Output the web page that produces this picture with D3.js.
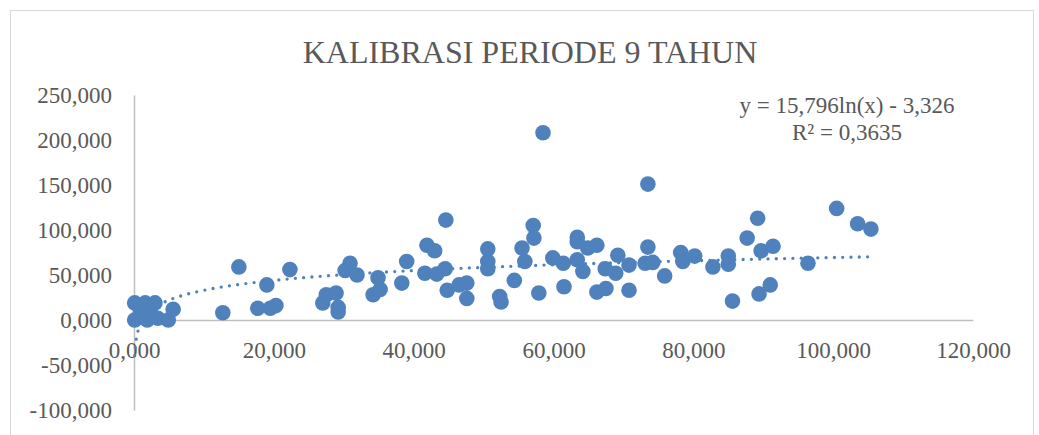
<!DOCTYPE html>
<html>
<head>
<meta charset="utf-8">
<script src="https://cdn.jsdelivr.net/npm/d3@7"></script>
<style>
  body { margin: 0; background: #fff; }
  text { font-family: "Liberation Serif", "Times New Roman", serif; fill: #595959; }
</style>
</head>
<body>
<script>
// observed values (thousands)
var xValues = [0.1, 1.6, 3.0, 0.1, 1.9, 3.4, 4.9, 5.6, 0.9, 2.3, 12.7, 15.0, 17.7, 19.0, 19.5, 20.3, 22.3,
  27.0, 27.5, 28.9, 29.2, 29.2, 30.2, 30.9, 31.9, 34.2, 34.9, 35.2, 38.3, 39.0, 41.6, 41.9, 43.0, 43.3,
  44.5, 44.6, 44.8, 46.5, 47.6, 47.6, 50.6, 50.6, 50.6, 52.3, 52.5,
  54.4, 55.5, 55.9, 57.1, 57.2, 57.9, 58.5, 59.9, 61.4, 61.5, 63.4, 63.4, 63.4, 64.2, 64.9, 66.2, 66.2,
  67.4, 67.5, 68.9, 69.2, 70.8, 70.8, 73.1, 73.5, 73.5, 74.2, 75.9, 78.2, 78.5, 80.2, 82.8, 85.0, 85.0,
  85.6, 87.7, 89.2, 89.4, 89.7, 91.0, 91.4, 96.4, 100.5, 103.5, 105.4];
var yValues = [19, 19, 19, 0, 0, 2, 0, 12, 8, 10, 8, 59, 13, 39, 13, 16, 56,
  19, 28, 30, 14, 9, 55, 63, 50, 28, 47, 34, 41, 65, 52, 83, 77, 51,
  57, 111, 33, 39, 41, 24, 79, 65, 57, 26, 20,
  44, 80, 65, 105, 91, 30, 208, 69, 63, 37, 92, 87, 67, 54, 80, 83, 31,
  57, 35, 52, 72, 61, 33, 63, 81, 151, 64, 49, 75, 65, 71, 59, 71, 62,
  21, 91, 113, 29, 77, 39, 82, 63, 124, 107, 101];

var xTicks = [0, 20, 40, 60, 80, 100, 120];
var yTicks = [-100, -50, 0, 50, 100, 150, 200, 250];

// logarithmic trendline given on the chart
var trendA = 15.796, trendB = -3.326;
var chartTitle = "KALIBRASI PERIODE 9 TAHUN";
var eqLines = ["y = 15,796ln(x) - 3,326", "R² = 0,3635"];

var width = 1039, height = 435;
var blue = "#4f81bd";

var fmt = d3.formatLocale({decimal: ",", thousands: ".", grouping: [3], currency: ["", ""], minus: "-"}).format(".3f");

var x = d3.scaleLinear().domain([0, 120]).range([134, 973]);
var y = d3.scaleLinear().domain([-100, 250]).range([410, 95]);

var svg = d3.select("body").append("svg")
    .attr("width", width)
    .attr("height", height);

svg.append("rect")
    .attr("x", 10.5).attr("y", 10.5)
    .attr("width", 1023).attr("height", 500)
    .attr("fill", "#fff")
    .attr("stroke", "#d9d9d9");

svg.append("text")
    .attr("x", 530).attr("y", 63)
    .attr("text-anchor", "middle")
    .style("font-size", "32px")
    .text(chartTitle);

var yAxis = svg.append("g")
    .attr("transform", "translate(" + x(0) + ",0)")
    .call(d3.axisLeft(y).tickValues(yTicks).tickSize(0).tickPadding(22).tickFormat(fmt));

var xAxis = svg.append("g")
    .attr("transform", "translate(0," + y(0) + ")")
    .call(d3.axisBottom(x).tickValues(xTicks).tickSize(0).tickPadding(22).tickFormat(fmt));

[yAxis, xAxis].forEach(function(g) {
  g.select(".domain").attr("stroke", "#bfbfbf").attr("stroke-width", 1.5);
  g.selectAll("text")
      .style("font-size", "23px")
      .style("font-family", '"Liberation Serif", "Times New Roman", serif')
      .attr("fill", "#595959");
});

// trendline
var xMin = d3.min(xValues), xMax = d3.max(xValues);
var trendPts = d3.range(0, 401).map(function(i) {
  var t = i / 400;
  var xv = Math.exp(Math.log(xMin) + (Math.log(xMax) - Math.log(xMin)) * Math.pow(t, 3));
  return [xv, trendA * Math.log(xv) + trendB];
});

var line = d3.line()
    .x(function(d) { return x(d[0]); })
    .y(function(d) { return y(d[1]); });

svg.append("path")
    .datum(trendPts)
    .attr("d", line)
    .attr("fill", "none")
    .attr("stroke", blue)
    .attr("stroke-width", 3.3)
    .attr("stroke-linecap", "round")
    .attr("stroke-dasharray", "0 8.3");

var data = xValues.map(function(v, i) { return {x: v, y: yValues[i]}; });

svg.selectAll(".dot")
    .data(data)
  .enter().append("circle")
    .attr("class", "dot")
    .attr("r", 7.8)
    .attr("cx", function(d) { return x(d.x); })
    .attr("cy", function(d) { return y(d.y); })
    .attr("fill", blue);

svg.selectAll(".eq")
    .data(eqLines)
  .enter().append("text")
    .attr("class", "eq")
    .attr("x", 847)
    .attr("y", function(d, i) { return 113 + i * 27; })
    .attr("text-anchor", "middle")
    .style("font-size", "23px")
    .text(function(d) { return d; });
</script>
</body>
</html>
